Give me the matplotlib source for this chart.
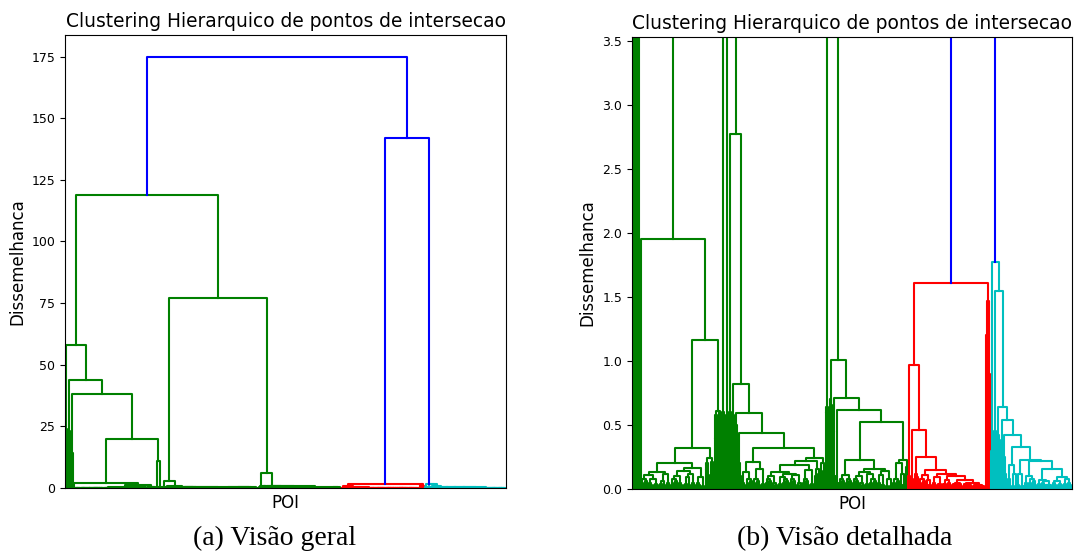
import matplotlib
matplotlib.use('Agg')
import matplotlib.pyplot as plt

# small leaf-group motifs: [height, left, right], an int is a group of n leaves
m3 = [0.03, 1, [0.015, 1, 1]]
m4 = [0.025, [0.01, 1, 1], 2]
m5a = [0.05, [0.02, 1, 1], [0.03, 1, 2]]
m5b = [0.04, [0.03, 2, 1], [0.01, 1, 1]]
m7 = [0.08, [0.045, 1, [0.02, 1, 1]], [0.06, [0.03, 1, 1], 2]]

# green cluster
P1 = [0.13, [0.11, m7, [0.08, m5a, m5b]], [0.12, [0.06, m5b, m3], m5a]]
P2 = [0.165, [0.14, [0.1, m7, m5a], [0.12, [0.09, m5b, m3], m5a]], [0.09, m5a, m4]]
Q = [0.24, [0.2, [0.16, 1, 1], [0.11, 1, 2]], [0.21, [0.14, 1, 1], 2]]
Y = [0.61, [0.58, [0.4, 1, 1], [0.5, 1, 1]], [0.6, [0.55, 1, 1], [0.3, 1, 1]]]
G116 = [1.16, [0.32, [0.2, P1, P2], Q], Y]
G11 = [11, [0.6, 1, [0.5, 1, 1]], [0.58, [0.45, 1, 1], 1]]
G20 = [20, [1.95, 1, G116], G11]
green_top_h = [58, 44, 38]
green_top_br = [[24, 1, [16, 1, 1]], [23, 1, [9, 1, 1]], [14, 1, 1]]

G032b_l = [0.21, [0.13, m5a, m7], [0.16, m7, m5b]]
C1a = [0.13, [0.1, m7, m5a], [0.12, [0.09, m5b, m7], [0.11, m7, [0.05, m3, m3]]]]
G032b_r = [0.24, [0.22, [0.19, C1a, [0.15, m7, m5b]], [0.16, [0.1, 1, 2], [0.12, 1, 2]]],
           [0.2, [0.14, 1, 1], [0.09, 1, 2]]]
mid_h = [2.77, 0.82, 0.59, 0.44]
mid_br = [[0.6, [0.52, 1, 1], [0.35, 1, 1]], [0.58, 1, [0.4, 1, 1]],
          [0.5, 1, [0.22, 1, 1]], [0.2, 1, [0.1, 1, 1]]]

G016 = [0.16, [0.13, [0.1, m7, m5a], [0.12, m5b, m7]], [0.14, [0.11, m5a, m3], [0.08, m4, m4]]]
G052 = [0.52, [0.23, [0.11, m7, m7], G016], [0.23, [0.2, m7, [0.12, m3, m3]], [0.17, 1, 1]]]
right_h = [6, 1.01, 0.71, 0.62]
right_br = [[0.64, [0.6, 1, 1], [0.62, 1, 1]], [0.7, 1, [0.66, 1, 1]],
            [0.45, 1, [0.1, 1, 1]], [0.1, 1, [0.05, 1, 1]]]
green_root_h = [119, 77]

# red cluster
red_h = [0.15, 0.12, 0.1, 0.07, 0.05, 0.035]
red_br = [[0.11, m7, [0.07, m3, m3]], [0.09, m5a, m5b], [0.07, m5b, m5a],
          [0.05, m5b, m5b], [0.04, m4, [0.03, m3, m3]], [0.03, m4, m4]]
red_tail = [0.02, [0.01, 1, 1], [0.012, 2, 2]]
red_upper_h = [1.61, 0.97, 0.46, 0.25]
red_left = [[0.1, 1, [0.06, 1, 1]], [0.08, 1, [0.05, 1, 1]],
            [0.12, [0.07, 1, 1], [0.09, 1, [0.04, 1, 1]]]]
red_right = [1.47, [1.2, 1, 1], [0.9, 1, [0.5, 1, 1]]]

# cyan cluster
cyan_h = [1.77, 1.55, 0.64, 0.54, 0.42, 0.33, 0.23, 0.217, 0.157]
cyan_br = [[0.3, 1, [0.2, 1, 1]], [0.45, 1, [0.25, 1, 1]], [0.42, 1, [0.3, 1, 1]],
           [0.38, [0.2, 1, 1], 1], [0.25, 1, [0.12, 1, [0.06, 1, 1]]],
           [0.19, [0.08, m3, 1], [0.12, m4, 2]], [0.12, m3, m4], [0.1, m5a, m7],
           [0.07, m5b, [0.06, m5a, [0.035, m3, m3]]]]
cyan_tail = [0.094, [0.06, m5a, m5b], [0.08, m5b, m5a]]

top_h = [175, 142]


def chain(heights, branches, tail):
    node = tail
    for h, b in zip(heights[::-1], branches[::-1]):
        node = [h, b, node]
    return node


green_tree = [green_root_h[0], chain(green_top_h, green_top_br, G20),
              [green_root_h[1], chain(mid_h, mid_br, [0.32, G032b_l, G032b_r]),
               chain(right_h, right_br, G052)]]
red_tree = [red_upper_h[0],
            [red_upper_h[1], red_left[0],
             [red_upper_h[2], red_left[1],
              [red_upper_h[3], red_left[2], chain(red_h, red_br, red_tail)]]],
            red_right]
cyan_tree = chain(cyan_h, cyan_br, cyan_tail)

LW = 1.5


def link(ax, xl, hl, xr, hr, h, color):
    ax.plot([xl, xl, xr, xr], [hl, h, h, hr], color=color, lw=LW)
    return (xl + xr) / 2, h


def draw(ax, node, color, pos):
    if isinstance(node, int):
        x = pos[0] + node / 2
        pos[0] += node
        return x, 0.0
    h, left, right = node
    xl, hl = draw(ax, left, color, pos)
    xr, hr = draw(ax, right, color, pos)
    return link(ax, xl, hl, xr, hr, h, color)


def dendro(ax):
    pos = [0.0]
    xg, hg = draw(ax, green_tree, 'g', pos)
    xr, hr = draw(ax, red_tree, 'r', pos)
    xc, hc = draw(ax, cyan_tree, 'c', pos)
    xb, hb = link(ax, xr, hr, xc, hc, top_h[1], 'b')
    link(ax, xg, hg, xb, hb, top_h[0], 'b')
    ax.set_xlim(0, pos[0])
    ax.set_xticks([])
    ax.set_title('Clustering Hierarquico de pontos de intersecao', fontsize=13.4)
    ax.set_xlabel('POI', fontsize=12)
    ax.set_ylabel('Dissemelhanca', fontsize=12)
    ax.tick_params(labelsize=9)


fig = plt.figure(figsize=(10.77, 5.55), dpi=100)
ax1 = fig.add_axes([0.0604, 0.1207, 0.4095, 0.8162])
ax2 = fig.add_axes([0.5868, 0.1189, 0.4085, 0.8144])

dendro(ax1)
ax1.set_ylim(0, 183.75)
ax1.set_yticks([0, 25, 50, 75, 100, 125, 150, 175])

dendro(ax2)
ax2.set_ylim(0, 3.53)
ax2.set_yticks([0.0, 0.5, 1.0, 1.5, 2.0, 2.5, 3.0, 3.5])

cap_font = ['Liberation Serif', 'DejaVu Serif']
fig.text(0.2553, 0.029, '(a) Visão geral', ha='center', va='center',
         fontsize=20, family=cap_font)
fig.text(0.7846, 0.029, '(b) Visão detalhada', ha='center', va='center',
         fontsize=20, family=cap_font)

fig.savefig('out.png', dpi=100)
